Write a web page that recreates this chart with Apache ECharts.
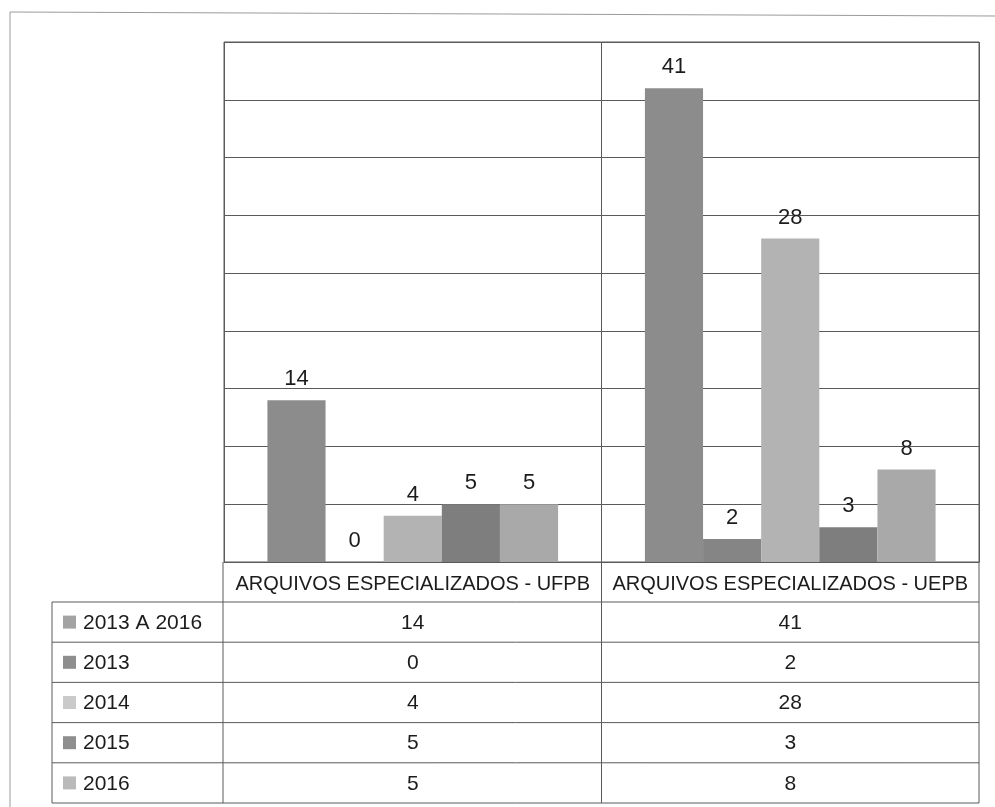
<!DOCTYPE html>
<html>
<head>
<meta charset="utf-8">
<script src="https://cdn.jsdelivr.net/npm/echarts@6/dist/echarts.min.js"></script>
<style>
html,body{margin:0;padding:0;background:#fff;}
#c{width:995px;height:807px;}
</style>
</head>
<body>
<div id="c"></div>
<script>
const categories = ['ARQUIVOS ESPECIALIZADOS - UFPB', 'ARQUIVOS ESPECIALIZADOS - UEPB'];
const seriesNames = ['2013 A 2016', '2013', '2014', '2015', '2016'];
const v2013a2016 = [14, 41];
const v2013 = [0, 2];
const v2014 = [4, 28];
const v2015 = [5, 3];
const v2016 = [5, 8];
const seriesValues = [v2013a2016, v2013, v2014, v2015, v2016];
const yMin = 0, yMax = 45, yInterval = 5;

const colors = ['#8c8c8c', '#858585', '#b3b3b3', '#7e7e7e', '#a9a9a9'];
const keyColors = ['#a3a3a3', '#8e8e8e', '#cacaca', '#8e8e8e', '#bababa'];
const FONT = 'Liberation Sans';
const TXT = '#1c1c1c';
const LINE = '#5a5a5a';

const GL = 224, GR = 979, GT = 42, GB = 562;
const chart = echarts.init(document.getElementById('c'), null, {renderer: 'canvas'});

chart.setOption({
  animation: false,
  backgroundColor: '#fff',
  grid: {left: GL, top: GT, width: GR - GL, height: GB - GT, show: true, borderColor: LINE, borderWidth: 1, containLabel: false},
  xAxis: {
    type: 'category', data: categories,
    axisTick: {show: false},
    axisLine: {show: true, lineStyle: {color: LINE, width: 1.2}},
    axisLabel: {show: true, interval: 0, hideOverlap: false, margin: 12, fontFamily: FONT, fontSize: 20, color: TXT},
    splitLine: {show: true, interval: 0, lineStyle: {color: LINE, width: 1}}
  },
  yAxis: {
    type: 'value', min: yMin, max: yMax, interval: yInterval,
    axisLabel: {show: false}, axisTick: {show: false}, axisLine: {show: false},
    splitLine: {show: true, lineStyle: {color: LINE, width: 1.2}}
  },
  series: seriesNames.map((n, i) => ({
    name: n, type: 'bar', data: seriesValues[i],
    barGap: 0, barCategoryGap: '23%',
    itemStyle: {color: colors[i]},
    label: {show: true, position: 'top', distance: 10, fontFamily: FONT, fontSize: 22, color: TXT}
  }))
});

// data table below chart, built from the arrays
const tableLeft = 52, headerTop = GB, rowTop = 602, rowH = 40.2;
const nRows = seriesNames.length;
const tableBottom = rowTop + rowH * nRows;
const g = [];
const ln = (x1, y1, x2, y2, c, w) => g.push({type: 'line', shape: {x1, y1, x2, y2}, style: {stroke: c || LINE, lineWidth: w || 1}, z: 10});
// outer frame
g.push({type: 'polyline', shape: {points: [[10, 807], [10, 12], [995, 16]]}, style: {stroke: '#9a9a9a', lineWidth: 1, fill: null}, z: 10});
// horizontal lines
ln(tableLeft, rowTop, GR, rowTop);
for (let r = 1; r <= nRows; r++) ln(tableLeft, rowTop + rowH * r, GR, rowTop + rowH * r);
// vertical lines
ln(tableLeft, rowTop, tableLeft, tableBottom);
ln(GL - 1, headerTop, GL - 1, tableBottom);
const mid = (chart.convertToPixel({xAxisIndex: 0}, 0) + chart.convertToPixel({xAxisIndex: 0}, 1)) / 2;
ln(mid, headerTop, mid, tableBottom);
ln(GR, headerTop, GR, tableBottom);
for (let r = 0; r < nRows; r++) {
  const cy = rowTop + rowH * r + rowH / 2;
  g.push({type: 'rect', shape: {x: 63, y: cy - 6.5, width: 13, height: 13}, style: {fill: keyColors[r]}, z: 11});
  g.push({type: 'text', style: {text: seriesNames[r], x: 83, y: cy + 1, fontFamily: FONT, fontSize: 21, fill: TXT, verticalAlign: 'middle', align: 'left'}, z: 11});
  for (let c = 0; c < categories.length; c++) {
    const cx = chart.convertToPixel({xAxisIndex: 0}, c);
    g.push({type: 'text', style: {text: String(seriesValues[r][c]), x: cx, y: cy + 1, fontFamily: FONT, fontSize: 21, fill: TXT, verticalAlign: 'middle', align: 'center'}, z: 11});
  }
}
chart.setOption({graphic: g});
</script>
</body>
</html>
